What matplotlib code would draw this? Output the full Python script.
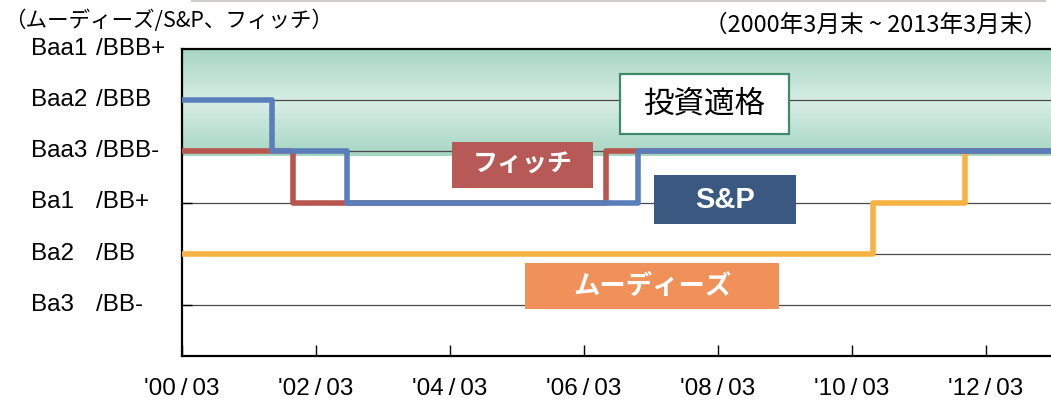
import numpy as np
import pandas as pd
import matplotlib
matplotlib.use("Agg")
import matplotlib.pyplot as plt
import matplotlib.patches as patches
import matplotlib.transforms as mtransforms
from matplotlib.colors import LinearSegmentedColormap

# rating levels (1 = Ba3/BB- ... 6 = Baa1/BBB+)
LEVELS = [1, 2, 3, 4, 5, 6]
MOODYS_NAMES = ["Ba3", "Ba2", "Ba1", "Baa3", "Baa2", "Baa1"]
SP_NAMES = ["/BB-", "/BB", "/BB+", "/BBB-", "/BBB", "/BBB+"]

# rating history, step changes (value holds until next date)
sp_dates = ["2000-03-31", "2001-08-03", "2002-09-17", "2007-01-22", "2013-03-31"]
sp_levels = [5, 4, 3, 4, 4]
fitch_dates = ["2000-03-31", "2001-11-24", "2006-07-27", "2013-03-31"]
fitch_levels = [4, 3, 4, 4]
moodys_dates = ["2000-03-31", "2010-07-23", "2011-12-10", "2013-03-31"]
moodys_levels = [2, 3, 4, 4]

tick_dates = ["2000-03-31", "2002-03-31", "2004-03-31", "2006-03-31",
              "2008-03-31", "2010-03-31", "2012-03-31"]
tick_labels = ["'00\u2009/\u200903", "'02\u2009/\u200903", "'04\u2009/\u200903", "'06\u2009/\u200903",
               "'08\u2009/\u200903", "'10\u2009/\u200903", "'12\u2009/\u200903"]

INVEST_GRADE_FLOOR = 3.9

W, H = 1051, 405
plt.rcParams["font.family"] = ["Liberation Sans", "Noto Sans CJK JP", "DejaVu Sans"]
JP = ["Noto Sans CJK JP", "DejaVu Sans"]

fig = plt.figure(figsize=(W / 100, H / 100), dpi=100)
ax = fig.add_axes([182 / W, (H - 356) / H, (1053 - 182) / W, (356 - 49) / H])

x0 = pd.Timestamp("2000-03-31")
x1 = pd.Timestamp("2013-03-31")
ax.set_xlim(x0, x1)
ax.set_ylim(0, 6)

# investment grade band (vertical gradient)
cmap = LinearSegmentedColormap.from_list("band", ["#a6d5c2", "#d8eee5", "#a6d5c2"])
grad = np.linspace(0, 1, 200).reshape(-1, 1)
ax.imshow(grad, cmap=cmap, aspect="auto", zorder=0.5,
          extent=[matplotlib.dates.date2num(x0), matplotlib.dates.date2num(x1),
                  INVEST_GRADE_FLOOR, 6])

for lv in LEVELS[:-1]:
    ax.axhline(lv, color="#4a4a4a", lw=0.9, zorder=1)

line_kw = dict(where="post", lw=4, solid_joinstyle="round", solid_capstyle="butt")
ax.step(pd.to_datetime(moodys_dates), moodys_levels, color="#f7b244", zorder=3, **line_kw)
ax.step(pd.to_datetime(fitch_dates), fitch_levels, color="#b9554f", zorder=4, **line_kw)
ax.step(pd.to_datetime(sp_dates), sp_levels, color="#5a7eba", zorder=5, **line_kw)

ax.set_xticks(pd.to_datetime(tick_dates))
ax.set_xticklabels(tick_labels, fontsize=17.5)
ax.tick_params(axis="x", direction="in", length=8, width=1, pad=16, colors="black")
ax.set_yticks(LEVELS[:-1])
ax.set_yticklabels([])
ax.tick_params(axis="y", direction="in", length=7, width=1)

for side in ["left", "bottom", "top"]:
    ax.spines[side].set_linewidth(1.6)
    ax.spines[side].set_color("black")
ax.spines["right"].set_visible(False)

# y-axis rating labels in two columns
trans = mtransforms.blended_transform_factory(fig.transFigure, ax.transData)
for lv, mname, sname in zip(LEVELS, MOODYS_NAMES, SP_NAMES):
    ax.text(31 / W, lv, mname, transform=trans, fontsize=17.5, ha="left", va="center", clip_on=False)
    ax.text(96 / W, lv, sname, transform=trans, fontsize=17.5, ha="left", va="center", clip_on=False)


def box(xa, ya, xb, yb, text, fc, ec, tc, size, family, weight="bold"):
    rect = patches.Rectangle((xa / W, 1 - yb / H), (xb - xa) / W, (yb - ya) / H,
                             transform=fig.transFigure, facecolor=fc, edgecolor=ec,
                             lw=1.6 if ec != "none" else 0, zorder=6)
    fig.add_artist(rect)
    fig.text((xa + xb) / 2 / W, 1 - (ya + yb) / 2 / H, text, color=tc, fontsize=size,
             family=family, weight=weight, ha="center", va="center", zorder=7)


box(620, 74, 789, 134, "投資適格", "white", "#3e8a6b", "black", 22, JP, weight="normal")
box(452, 142, 593, 188, "フィッチ", "#b75956", "none", "white", 18, JP)
box(654, 175, 796, 224, "S&P", "#3b5880", "none", "white", 21, ["Liberation Sans"])
box(525, 263, 779, 309, "ムーディーズ", "#f0915a", "none", "white", 19, JP)

# header texts
fig.text(4 / W, 1 - 21 / H, "（ムーディーズ/S&P、フィッチ）", fontsize=15.5, family=JP,
         ha="left", va="center")
fig.text(1047 / W, 1 - 25 / H, "（2000年3月末 ~ 2013年3月末）", fontsize=17, family=JP,
         ha="right", va="center")
fig.add_artist(plt.Line2D([192 / W, 1045 / W], [1 - 1 / H, 1 - 1 / H],
                          transform=fig.transFigure, color="#d2cdc8", lw=1.5))

fig.savefig("out.png", dpi=100)
